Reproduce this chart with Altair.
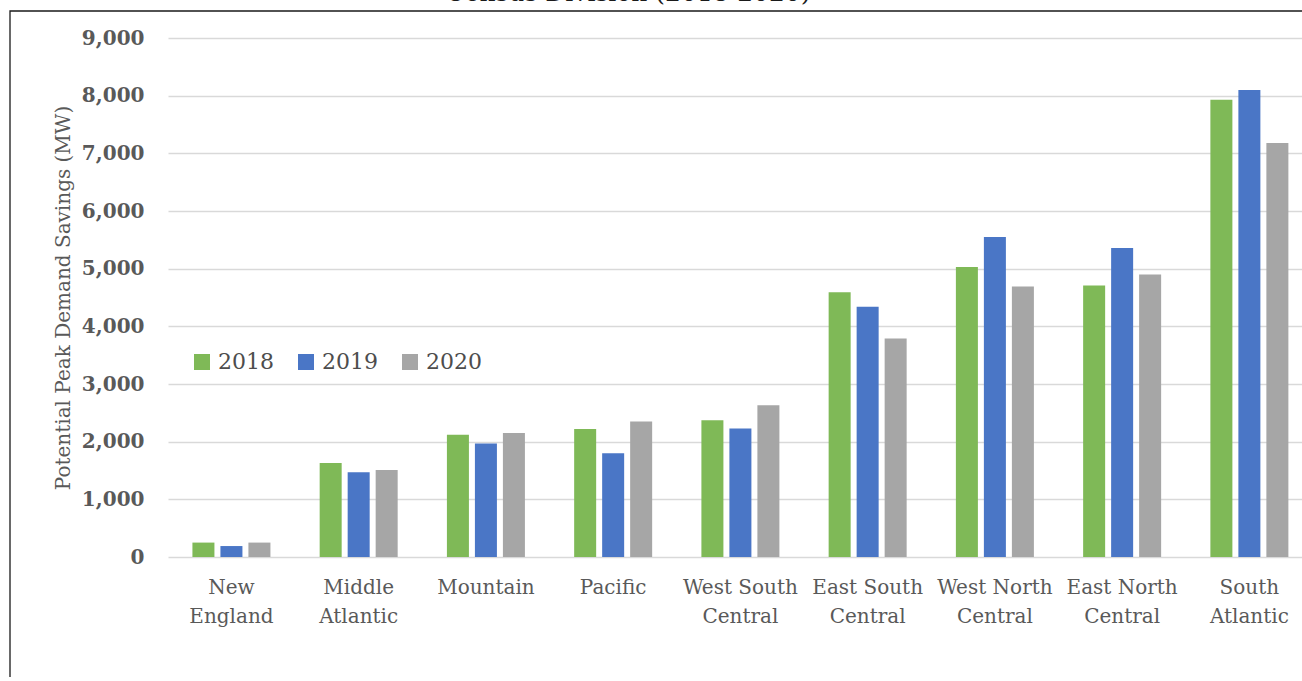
import json

import altair as alt
import pandas as pd

# Census divisions, in plotting order
regions = [
    "New England", "Middle Atlantic", "Mountain", "Pacific",
    "West South Central", "East South Central", "West North Central",
    "East North Central", "South Atlantic",
]
# how each division name wraps under the axis
label_lines = [
    ["New", "England"], ["Middle", "Atlantic"], ["Mountain"], ["Pacific"],
    ["West South", "Central"], ["East South", "Central"], ["West North", "Central"],
    ["East North", "Central"], ["South", "Atlantic"],
]
years = ["2018", "2019", "2020"]

# potential peak demand savings, MW
savings_2018 = [250, 1630, 2120, 2220, 2370, 4590, 5030, 4710, 7930]
savings_2019 = [190, 1470, 1970, 1800, 2230, 4340, 5550, 5360, 8100]
savings_2020 = [250, 1510, 2150, 2350, 2630, 3790, 4690, 4900, 7180]

year_colors = ["#7FB957", "#4A76C6", "#A6A6A6"]
y_ticks = list(range(0, 9001, 1000))
title_text = "Census Division (2018-2020)"
y_title = "Potential Peak Demand Savings (MW)"

rows = []
for year, series in zip(years, [savings_2018, savings_2019, savings_2020]):
    for region, value in zip(regions, series):
        rows.append({"region": region, "year": year, "savings": value})
df = pd.DataFrame(rows)

SERIF = "DejaVu Serif"
TEXT_GREY = "#595959"

label_map = json.dumps(dict(zip(regions, label_lines)))

bars = alt.Chart(df).mark_bar().encode(
    x=alt.X(
        "region:N",
        sort=regions,
        scale=alt.Scale(paddingInner=0.387, paddingOuter=0.1495, align=0.642),
        axis=alt.Axis(
            title=None,
            labelExpr=f"{label_map}[datum.label]",
            labelFont=SERIF,
            labelFontSize=20,
            labelColor=TEXT_GREY,
            labelPadding=20,
            labelLineHeight=29,
            labelAngle=0,
            labelOverlap=False,
            ticks=False,
            domain=False,
        ),
    ),
    xOffset=alt.XOffset(
        "year:N", sort=years, scale=alt.Scale(paddingInner=0.214, paddingOuter=0)
    ),
    y=alt.Y(
        "savings:Q",
        scale=alt.Scale(domain=[0, 9000], nice=False),
        axis=alt.Axis(
            values=y_ticks,
            format=",d",
            title=y_title,
            titleFont=SERIF,
            titleFontSize=20,
            titleFontWeight="normal",
            titleColor=TEXT_GREY,
            titlePadding=8,
            labelFont=SERIF,
            labelFontWeight="bold",
            labelFontSize=20,
            labelColor=TEXT_GREY,
            labelPadding=24,
            ticks=False,
            domain=False,
            gridColor="#D9D9D9",
            gridWidth=1.5,
        ),
    ),
    color=alt.Color(
        "year:N",
        sort=years,
        scale=alt.Scale(domain=years, range=year_colors),
        legend=alt.Legend(
            orient="none",
            legendX=23,
            legendY=313,
            direction="horizontal",
            title=None,
            symbolType="square",
            symbolSize=256,
            symbolStrokeWidth=0,
            symbolOpacity=1,
            labelFont=SERIF,
            labelFontSize=22,
            labelColor="#4D4D4D",
            labelOffset=5,
            columnPadding=21,
            padding=0,
        ),
    ),
)

# frame drawn around the whole figure
frame = alt.Chart(pd.DataFrame({"k": [0]})).mark_rect(
    fillOpacity=0, stroke="#1A1A1A", strokeWidth=1.3
).encode(
    x=alt.value(-158), x2=alt.value(1400),
    y=alt.value(-27), y2=alt.value(700),
)

# figure title sitting above the frame
title = alt.Chart(pd.DataFrame({"k": [0]})).mark_text(
    text=title_text, font=SERIF, fontSize=25, color="#1A1A1A",
    align="center", baseline="alphabetic",
).encode(x=alt.value(460), y=alt.value(-37))

chart = (
    alt.layer(frame, bars, title)
    .properties(
        width=1134,
        height=519,
        autosize=alt.AutoSizeParams(type="none"),
        padding={"left": 168, "top": 38, "right": 0, "bottom": 120},
    )
    .configure_view(strokeWidth=0)
)

chart.save("out.html", embed_options={"renderer": "svg", "actions": False})
